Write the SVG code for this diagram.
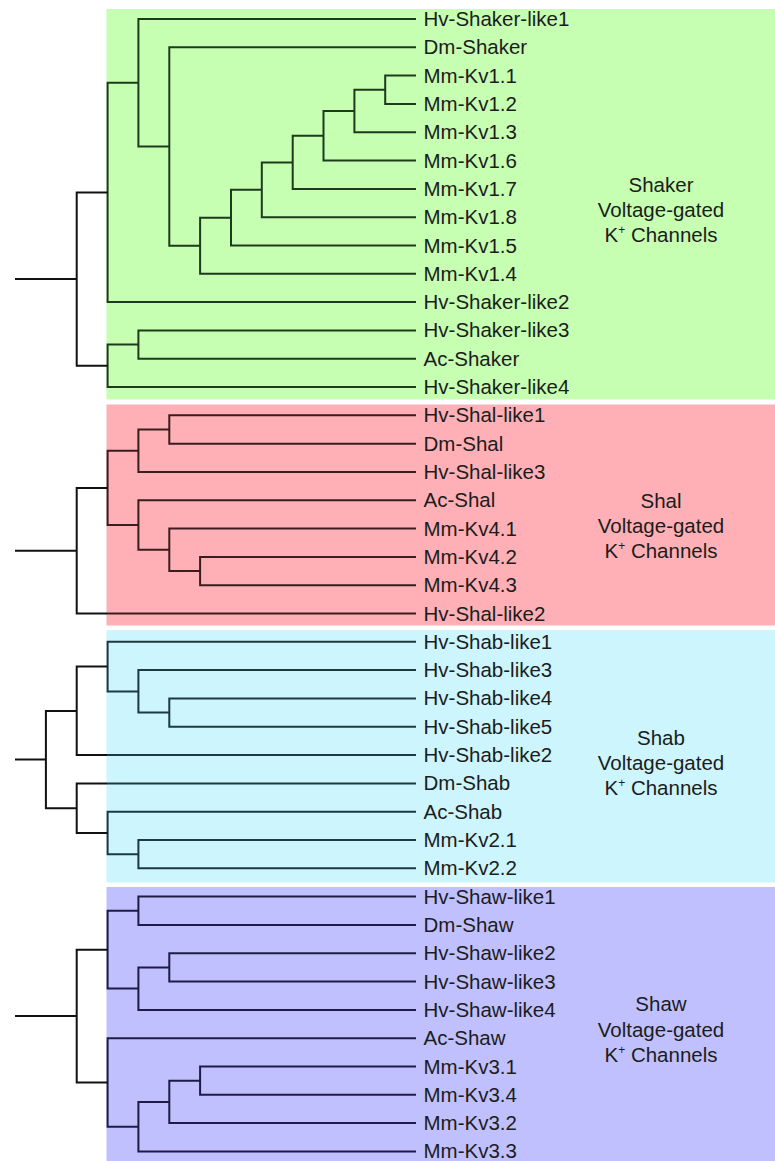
<svg xmlns="http://www.w3.org/2000/svg" width="775" height="1161" viewBox="0 0 775 1161">
<style>
.bg{stroke:none}
.ln{fill:none;stroke-width:2;stroke-linejoin:miter;stroke-linecap:butt}
.k{stroke:#111}
.g{stroke:#1d3a1d}
.r{stroke:#3a1c1e}
.b{stroke:#1c3840}
.p{stroke:#1c1c46}
.lf{font-family:"Liberation Sans",Arial,sans-serif;font-size:20.5px;fill:#1c1c1c}
.sec{font-family:"Liberation Sans",Arial,sans-serif;font-size:20.5px;fill:#1c1c1c;text-anchor:middle}
.sup{font-size:12px}
</style>
<rect width="775" height="1161" fill="#ffffff"/>
<g id="boxes">
<rect id="box-shaker" class="bg" x="106.5" y="9" width="668.5" height="390.5" fill="#c6feb2"/>
<rect id="box-shal" class="bg" x="106.5" y="404.5" width="668.5" height="221" fill="#feb0b6"/>
<rect id="box-shab" class="bg" x="106.5" y="630" width="668.5" height="252.5" fill="#ccf5fe"/>
<rect id="box-shaw" class="bg" x="106.5" y="887" width="668.5" height="274" fill="#c0c0fe"/>
</g>
<g id="connectors">
<!-- Shaker -->
<path class="ln g" d="M416 75.6 H385.2 V103.9 H416"/>
<path class="ln g" d="M385.2 89.75 H354.4 V132.2 H416"/>
<path class="ln g" d="M354.4 111 H323.5 V160.6 H416"/>
<path class="ln g" d="M323.5 135.8 H292.7 V188.9 H416"/>
<path class="ln g" d="M292.7 162.4 H261.8 V217.2 H416"/>
<path class="ln g" d="M261.8 189.8 H231 V245.5 H416"/>
<path class="ln g" d="M231 217.7 H200.1 V273.8 H416"/>
<path class="ln g" d="M416 47.3 H169.3 V245.7 H200.1"/>
<path class="ln g" d="M416 19 H138.4 V146.5 H169.3"/>
<path class="ln g" d="M138.4 82.8 H107.6 V302.1 H416"/>
<path class="ln g" d="M416 330.4 H138.4 V358.7 H416"/>
<path class="ln g" d="M138.4 344.6 H107.6 V387 H416"/>
<path class="ln k" d="M107.6 192.4 H76.7 V365.8 H107.6"/>
<path class="ln k" d="M15 279.1 H76.7"/>
<!-- Shal -->
<path class="ln r" d="M416 415.3 H169.3 V443.7 H416"/>
<path class="ln r" d="M169.3 429.5 H138.4 V472 H416"/>
<path class="ln r" d="M416 556.9 H200.1 V585.2 H416"/>
<path class="ln r" d="M416 528.6 H169.3 V571.1 H200.1"/>
<path class="ln r" d="M416 500.3 H138.4 V549.8 H169.3"/>
<path class="ln r" d="M138.4 450.8 H107.6 V525.1 H138.4"/>
<path class="ln k" d="M107.6 487.9 H76.7 V613.5 H107"/>
<path class="ln r" d="M107 613.5 H416"/>
<path class="ln k" d="M15 550.7 H76.7"/>
<!-- Shab -->
<path class="ln b" d="M416 698.4 H169.3 V726.8 H416"/>
<path class="ln b" d="M416 670.1 H138.4 V712.6 H169.3"/>
<path class="ln b" d="M416 641.8 H107.6 V691.4 H138.4"/>
<path class="ln k" d="M107.6 666.6 H76.7 V755.1 H107"/>
<path class="ln b" d="M107 755.1 H416"/>
<path class="ln b" d="M416 840 H138.4 V868.3 H416"/>
<path class="ln b" d="M416 811.7 H107.6 V854.2 H138.4"/>
<path class="ln k" d="M107 783.4 H76.7 V832.9 H107.6"/>
<path class="ln b" d="M107 783.4 H416"/>
<path class="ln k" d="M76.7 710.9 H45.9 V808.2 H76.7"/>
<path class="ln k" d="M15 759.5 H45.9"/>
<!-- Shaw -->
<path class="ln p" d="M416 896.6 H138.4 V924.9 H416"/>
<path class="ln p" d="M416 953.2 H169.3 V981.5 H416"/>
<path class="ln p" d="M169.3 967.4 H138.4 V1009.9 H416"/>
<path class="ln p" d="M138.4 910.8 H107.6 V988.6 H138.4"/>
<path class="ln p" d="M416 1066.5 H200.1 V1094.8 H416"/>
<path class="ln p" d="M200.1 1080.7 H169.3 V1123.1 H416"/>
<path class="ln p" d="M169.3 1101.9 H138.4 V1151.4 H416"/>
<path class="ln p" d="M416 1038.2 H107.6 V1126.7 H138.4"/>
<path class="ln k" d="M107.6 949.7 H76.7 V1082.4 H107.6"/>
<path class="ln k" d="M15 1016.1 H76.7"/>
</g>
<g id="leaves">
<g id="n-hv-shaker-like1"><text class="lf" x="423.5" y="26">Hv-Shaker-like1</text></g>
<g id="n-dm-shaker"><text class="lf" x="423.5" y="54.3">Dm-Shaker</text></g>
<g id="n-mm-kv1-1"><text class="lf" x="423.5" y="82.6">Mm-Kv1.1</text></g>
<g id="n-mm-kv1-2"><text class="lf" x="423.5" y="110.9">Mm-Kv1.2</text></g>
<g id="n-mm-kv1-3"><text class="lf" x="423.5" y="139.2">Mm-Kv1.3</text></g>
<g id="n-mm-kv1-6"><text class="lf" x="423.5" y="167.6">Mm-Kv1.6</text></g>
<g id="n-mm-kv1-7"><text class="lf" x="423.5" y="195.9">Mm-Kv1.7</text></g>
<g id="n-mm-kv1-8"><text class="lf" x="423.5" y="224.2">Mm-Kv1.8</text></g>
<g id="n-mm-kv1-5"><text class="lf" x="423.5" y="252.5">Mm-Kv1.5</text></g>
<g id="n-mm-kv1-4"><text class="lf" x="423.5" y="280.8">Mm-Kv1.4</text></g>
<g id="n-hv-shaker-like2"><text class="lf" x="423.5" y="309.1">Hv-Shaker-like2</text></g>
<g id="n-hv-shaker-like3"><text class="lf" x="423.5" y="337.4">Hv-Shaker-like3</text></g>
<g id="n-ac-shaker"><text class="lf" x="423.5" y="365.7">Ac-Shaker</text></g>
<g id="n-hv-shaker-like4"><text class="lf" x="423.5" y="394">Hv-Shaker-like4</text></g>
<g id="n-hv-shal-like1"><text class="lf" x="423.5" y="422.3">Hv-Shal-like1</text></g>
<g id="n-dm-shal"><text class="lf" x="423.5" y="450.7">Dm-Shal</text></g>
<g id="n-hv-shal-like3"><text class="lf" x="423.5" y="479">Hv-Shal-like3</text></g>
<g id="n-ac-shal"><text class="lf" x="423.5" y="507.3">Ac-Shal</text></g>
<g id="n-mm-kv4-1"><text class="lf" x="423.5" y="535.6">Mm-Kv4.1</text></g>
<g id="n-mm-kv4-2"><text class="lf" x="423.5" y="563.9">Mm-Kv4.2</text></g>
<g id="n-mm-kv4-3"><text class="lf" x="423.5" y="592.2">Mm-Kv4.3</text></g>
<g id="n-hv-shal-like2"><text class="lf" x="423.5" y="620.5">Hv-Shal-like2</text></g>
<g id="n-hv-shab-like1"><text class="lf" x="423.5" y="648.8">Hv-Shab-like1</text></g>
<g id="n-hv-shab-like3"><text class="lf" x="423.5" y="677.1">Hv-Shab-like3</text></g>
<g id="n-hv-shab-like4"><text class="lf" x="423.5" y="705.4">Hv-Shab-like4</text></g>
<g id="n-hv-shab-like5"><text class="lf" x="423.5" y="733.8">Hv-Shab-like5</text></g>
<g id="n-hv-shab-like2"><text class="lf" x="423.5" y="762.1">Hv-Shab-like2</text></g>
<g id="n-dm-shab"><text class="lf" x="423.5" y="790.4">Dm-Shab</text></g>
<g id="n-ac-shab"><text class="lf" x="423.5" y="818.7">Ac-Shab</text></g>
<g id="n-mm-kv2-1"><text class="lf" x="423.5" y="847">Mm-Kv2.1</text></g>
<g id="n-mm-kv2-2"><text class="lf" x="423.5" y="875.3">Mm-Kv2.2</text></g>
<g id="n-hv-shaw-like1"><text class="lf" x="423.5" y="903.6">Hv-Shaw-like1</text></g>
<g id="n-dm-shaw"><text class="lf" x="423.5" y="931.9">Dm-Shaw</text></g>
<g id="n-hv-shaw-like2"><text class="lf" x="423.5" y="960.2">Hv-Shaw-like2</text></g>
<g id="n-hv-shaw-like3"><text class="lf" x="423.5" y="988.5">Hv-Shaw-like3</text></g>
<g id="n-hv-shaw-like4"><text class="lf" x="423.5" y="1016.9">Hv-Shaw-like4</text></g>
<g id="n-ac-shaw"><text class="lf" x="423.5" y="1045.2">Ac-Shaw</text></g>
<g id="n-mm-kv3-1"><text class="lf" x="423.5" y="1073.5">Mm-Kv3.1</text></g>
<g id="n-mm-kv3-4"><text class="lf" x="423.5" y="1101.8">Mm-Kv3.4</text></g>
<g id="n-mm-kv3-2"><text class="lf" x="423.5" y="1130.1">Mm-Kv3.2</text></g>
<g id="n-mm-kv3-3"><text class="lf" x="423.5" y="1158.4">Mm-Kv3.3</text></g>
</g>
<g id="label-shaker">
<text class="sec" x="661" y="191.5">Shaker</text>
<text class="sec" x="661" y="216.5">Voltage-gated</text>
<text class="sec" x="661" y="241.5">K<tspan class="sup" dy="-8">+</tspan><tspan dy="8"> Channels</tspan></text>
</g>
<g id="label-shal">
<text class="sec" x="661" y="508">Shal</text>
<text class="sec" x="661" y="533">Voltage-gated</text>
<text class="sec" x="661" y="558.3">K<tspan class="sup" dy="-8">+</tspan><tspan dy="8"> Channels</tspan></text>
</g>
<g id="label-shab">
<text class="sec" x="661" y="744.5">Shab</text>
<text class="sec" x="661" y="769.5">Voltage-gated</text>
<text class="sec" x="661" y="794.8">K<tspan class="sup" dy="-8">+</tspan><tspan dy="8"> Channels</tspan></text>
</g>
<g id="label-shaw">
<text class="sec" x="661" y="1011">Shaw</text>
<text class="sec" x="661" y="1036.5">Voltage-gated</text>
<text class="sec" x="661" y="1062.2">K<tspan class="sup" dy="-8">+</tspan><tspan dy="8"> Channels</tspan></text>
</g>
</svg>
